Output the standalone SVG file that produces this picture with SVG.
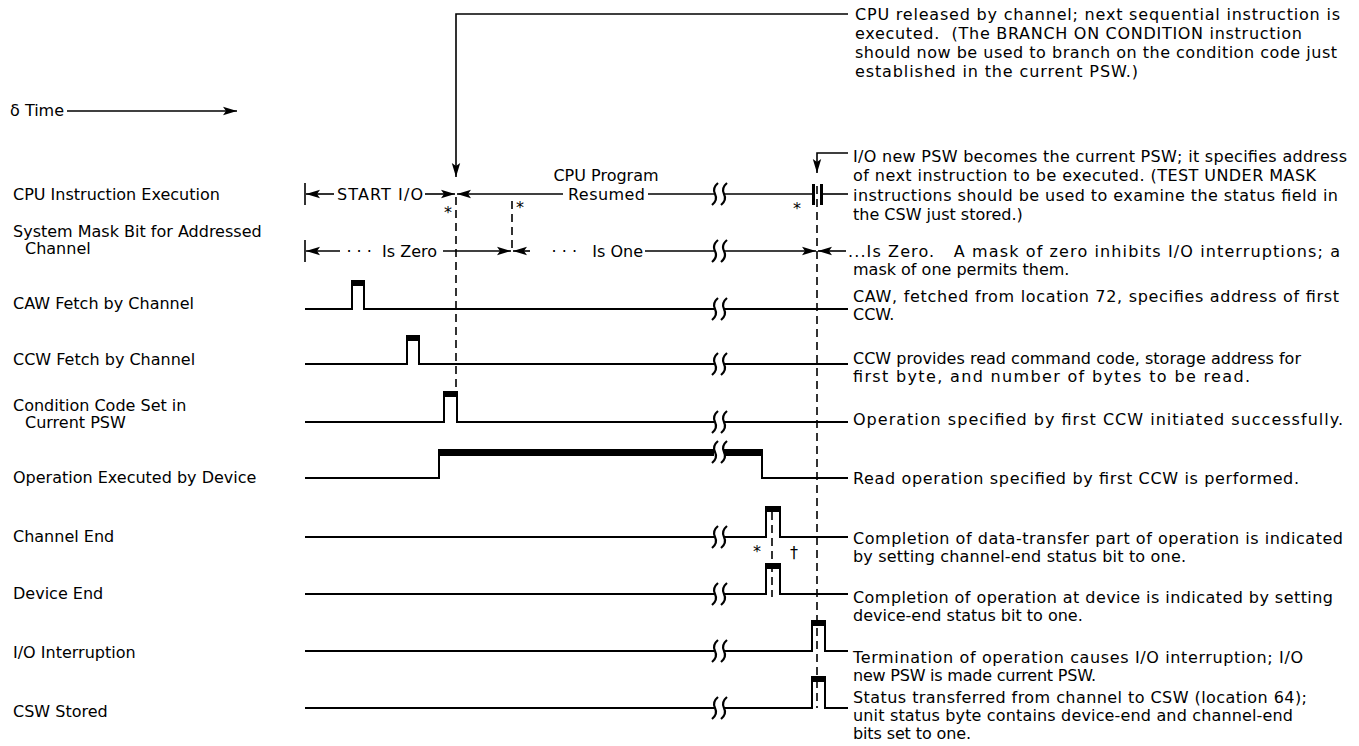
<svg xmlns="http://www.w3.org/2000/svg" width="1359" height="746" viewBox="0 0 1359 746">
<defs>
<marker id="ah" viewBox="0 0 14 10" refX="14" refY="5" markerWidth="14" markerHeight="10" markerUnits="userSpaceOnUse" orient="auto-start-reverse"><path d="M0,0.8 L14,5 L0,9.2 L3,5 Z" fill="#000"/></marker>
<path id="brk" d="M-1,-11 Q-7,-6 -4,0 Q-1,6 -7,11 M8,-11 Q2,-6 5,0 Q8,6 2,11" fill="none" stroke="#000" stroke-width="2.2"/>
</defs>
<style>
text{font-family:"DejaVu Sans","Liberation Sans",sans-serif;font-size:16px;fill:#000;white-space:pre}
.s{font-size:16px}
.m{text-anchor:middle}
.e{text-anchor:end}
.w{fill:none;stroke:#000;stroke-width:2}
.l{fill:none;stroke:#000;stroke-width:1.6}
.a{fill:none;stroke:#000;stroke-width:1.6;marker-end:url(#ah)}
.ar{fill:none;stroke:#000;stroke-width:1.6;marker-start:url(#ah)}
.d{fill:none;stroke:#000;stroke-width:1.6;stroke-dasharray:8 5}
.b{fill:#000}
</style>
<rect width="1359" height="746" fill="#fff"/>

<g id="row-time">
<text x="10" y="116">δ Time</text>
<line class="a" x1="67" y1="111" x2="237" y2="111"/>
</g>

<g id="row-cpu">
<text x="13" y="200">CPU Instruction Execution</text>
<line class="l" x1="305" y1="183" x2="305" y2="205"/>
<line class="ar" x1="306" y1="194" x2="334" y2="194"/>
<text x="337" y="200" textLength="86">START I/O</text>
<line class="a" x1="425" y1="194" x2="455" y2="194"/>
<text class="s m" x="448" y="218">*</text>
<line class="ar" x1="457" y1="194" x2="563" y2="194"/>
<text class="m" x="606" y="181">CPU Program</text>
<text x="568" y="200" textLength="77">Resumed</text>
<line class="l" x1="648" y1="194" x2="714" y2="194"/>
<use href="#brk" x="719" y="194"/>
<line class="l" x1="724" y1="194" x2="812" y2="194"/>
<rect class="b" x="812" y="184" width="3" height="21"/>
<rect class="b" x="820" y="184" width="3" height="21"/>
<line class="l" x1="823" y1="194" x2="848" y2="194"/>
<text class="s m" x="797" y="214">*</text>
<text class="s m" x="520" y="213">*</text>
</g>

<g id="row-mask">
<text x="13" y="237">System Mask Bit for Addressed</text>
<text x="25" y="254">Channel</text>
<line class="l" x1="305" y1="240" x2="305" y2="262"/>
<line class="ar" x1="306" y1="251" x2="340" y2="251"/>
<text class="e" x="437" y="257">· · ·  Is Zero</text>
<line class="a" x1="443" y1="251" x2="511" y2="251"/>
<line class="ar" x1="513" y1="251" x2="530" y2="251"/>
<text class="e" x="643" y="257">· · ·   Is One</text>
<line class="l" x1="645" y1="251" x2="714" y2="251"/>
<use href="#brk" x="719" y="251"/>
<line class="a" x1="724" y1="251" x2="816" y2="251"/>
<line class="ar" x1="818" y1="251" x2="846" y2="251"/>
<text x="848" y="257" textLength="492">...Is Zero.   A mask of zero inhibits I/O interruptions; a</text>
<text x="853" y="275">mask of one permits them.</text>
</g>

<g id="row-caw">
<text x="13" y="309">CAW Fetch by Channel</text>
<path class="w" d="M305,309 H352 V283 H364 V309 H714 M724,309 H848"/>
<rect class="b" x="351" y="280" width="14" height="6"/>
<use href="#brk" x="719" y="309"/>
<text x="853" y="302" textLength="486">CAW, fetched from location 72, specifies address of first</text>
<text x="853" y="320">CCW.</text>
</g>

<g id="row-ccw">
<text x="13" y="365">CCW Fetch by Channel</text>
<path class="w" d="M305,364 H407 V338 H419 V364 H714 M724,364 H848"/>
<rect class="b" x="406" y="335" width="14" height="6"/>
<use href="#brk" x="719" y="364"/>
<text x="853" y="364" textLength="448">CCW provides read command code, storage address for</text>
<text x="853" y="382" textLength="397">first byte, and number of bytes to be read.</text>
</g>

<g id="row-cc">
<text x="13" y="411">Condition Code Set in</text>
<text x="25" y="428">Current PSW</text>
<path class="w" d="M305,422 H444 V394 H457 V422 H714 M724,422 H848"/>
<rect class="b" x="443" y="391" width="15" height="6"/>
<use href="#brk" x="719" y="422"/>
<text x="853" y="425" textLength="490">Operation specified by first CCW initiated successfully.</text>
</g>

<g id="row-op">
<text x="13" y="483">Operation Executed by Device</text>
<path class="w" d="M305,478 H439 V452 M762,452 V478 H848"/>
<rect class="b" x="438" y="449" width="276" height="7"/>
<rect class="b" x="724" y="449" width="39" height="7"/>
<use href="#brk" x="719" y="452"/>
<text x="853" y="484" textLength="446">Read operation specified by first CCW is performed.</text>
</g>

<g id="row-che">
<text x="13" y="542">Channel End</text>
<path class="w" d="M305,537 H714 M724,537 H766 V509 H780 V537 H848"/>
<rect class="b" x="765" y="506" width="16" height="6"/>
<use href="#brk" x="719" y="537"/>
<text class="s m" x="757" y="557">*</text>
<text class="s m" x="794" y="558">†</text>
<text x="853" y="544" textLength="490">Completion of data-transfer part of operation is indicated</text>
<text x="853" y="562" textLength="333">by setting channel-end status bit to one.</text>
</g>

<g id="row-dve">
<text x="13" y="599">Device End</text>
<path class="w" d="M305,594 H714 M724,594 H766 V566 H780 V594 H848"/>
<rect class="b" x="765" y="563" width="16" height="6"/>
<use href="#brk" x="719" y="594"/>
<text x="853" y="603" textLength="480">Completion of operation at device is indicated by setting</text>
<text x="853" y="621">device-end status bit to one.</text>
</g>

<g id="row-ioi">
<text x="13" y="658">I/O Interruption</text>
<path class="w" d="M305,651 H714 M724,651 H812 V623 H825 V651 H848"/>
<rect class="b" x="811" y="620" width="15" height="6"/>
<use href="#brk" x="719" y="651"/>
<text x="853" y="663" textLength="450">Termination of operation causes I/O interruption; I/O</text>
<text x="853" y="681" textLength="243">new PSW is made current PSW.</text>
</g>

<g id="row-csw">
<text x="13" y="717">CSW Stored</text>
<path class="w" d="M305,708 H714 M724,708 H812 V679 H825 V708 H848"/>
<rect class="b" x="811" y="676" width="15" height="6"/>
<use href="#brk" x="719" y="708"/>
<text x="853" y="703" textLength="454">Status transferred from channel to CSW (location 64);</text>
<text x="853" y="721" textLength="440">unit status byte contains device-end and channel-end</text>
<text x="853" y="739" textLength="118">bits set to one.</text>
</g>

<g id="note-release">
<text x="855" y="20" textLength="485">CPU released by channel; next sequential instruction is</text>
<text x="855" y="39" textLength="447">executed.  (The BRANCH ON CONDITION instruction</text>
<text x="855" y="58" textLength="482">should now be used to branch on the condition code just</text>
<text x="855" y="77" textLength="283">established in the current PSW.)</text>
</g>

<g id="note-newpsw">
<text x="853" y="162" textLength="494">I/O new PSW becomes the current PSW; it specifies address</text>
<text x="853" y="181" textLength="463">of next instruction to be executed. (TEST UNDER MASK</text>
<text x="853" y="201" textLength="485">instructions should be used to examine the status field in</text>
<text x="853" y="220">the CSW just stored.)</text>
</g>

<g id="connectors">
<path class="a" d="M848,14 H456 V177"/>
<path class="a" d="M848,153 H817 V173"/>
<line class="d" x1="456" y1="197" x2="456" y2="392"/>
<line class="d" x1="512" y1="201" x2="512" y2="251"/>
<line class="d" x1="817" y1="186" x2="817" y2="708"/>
<line class="d" x1="772" y1="512" x2="772" y2="597"/>
</g>
</svg>
